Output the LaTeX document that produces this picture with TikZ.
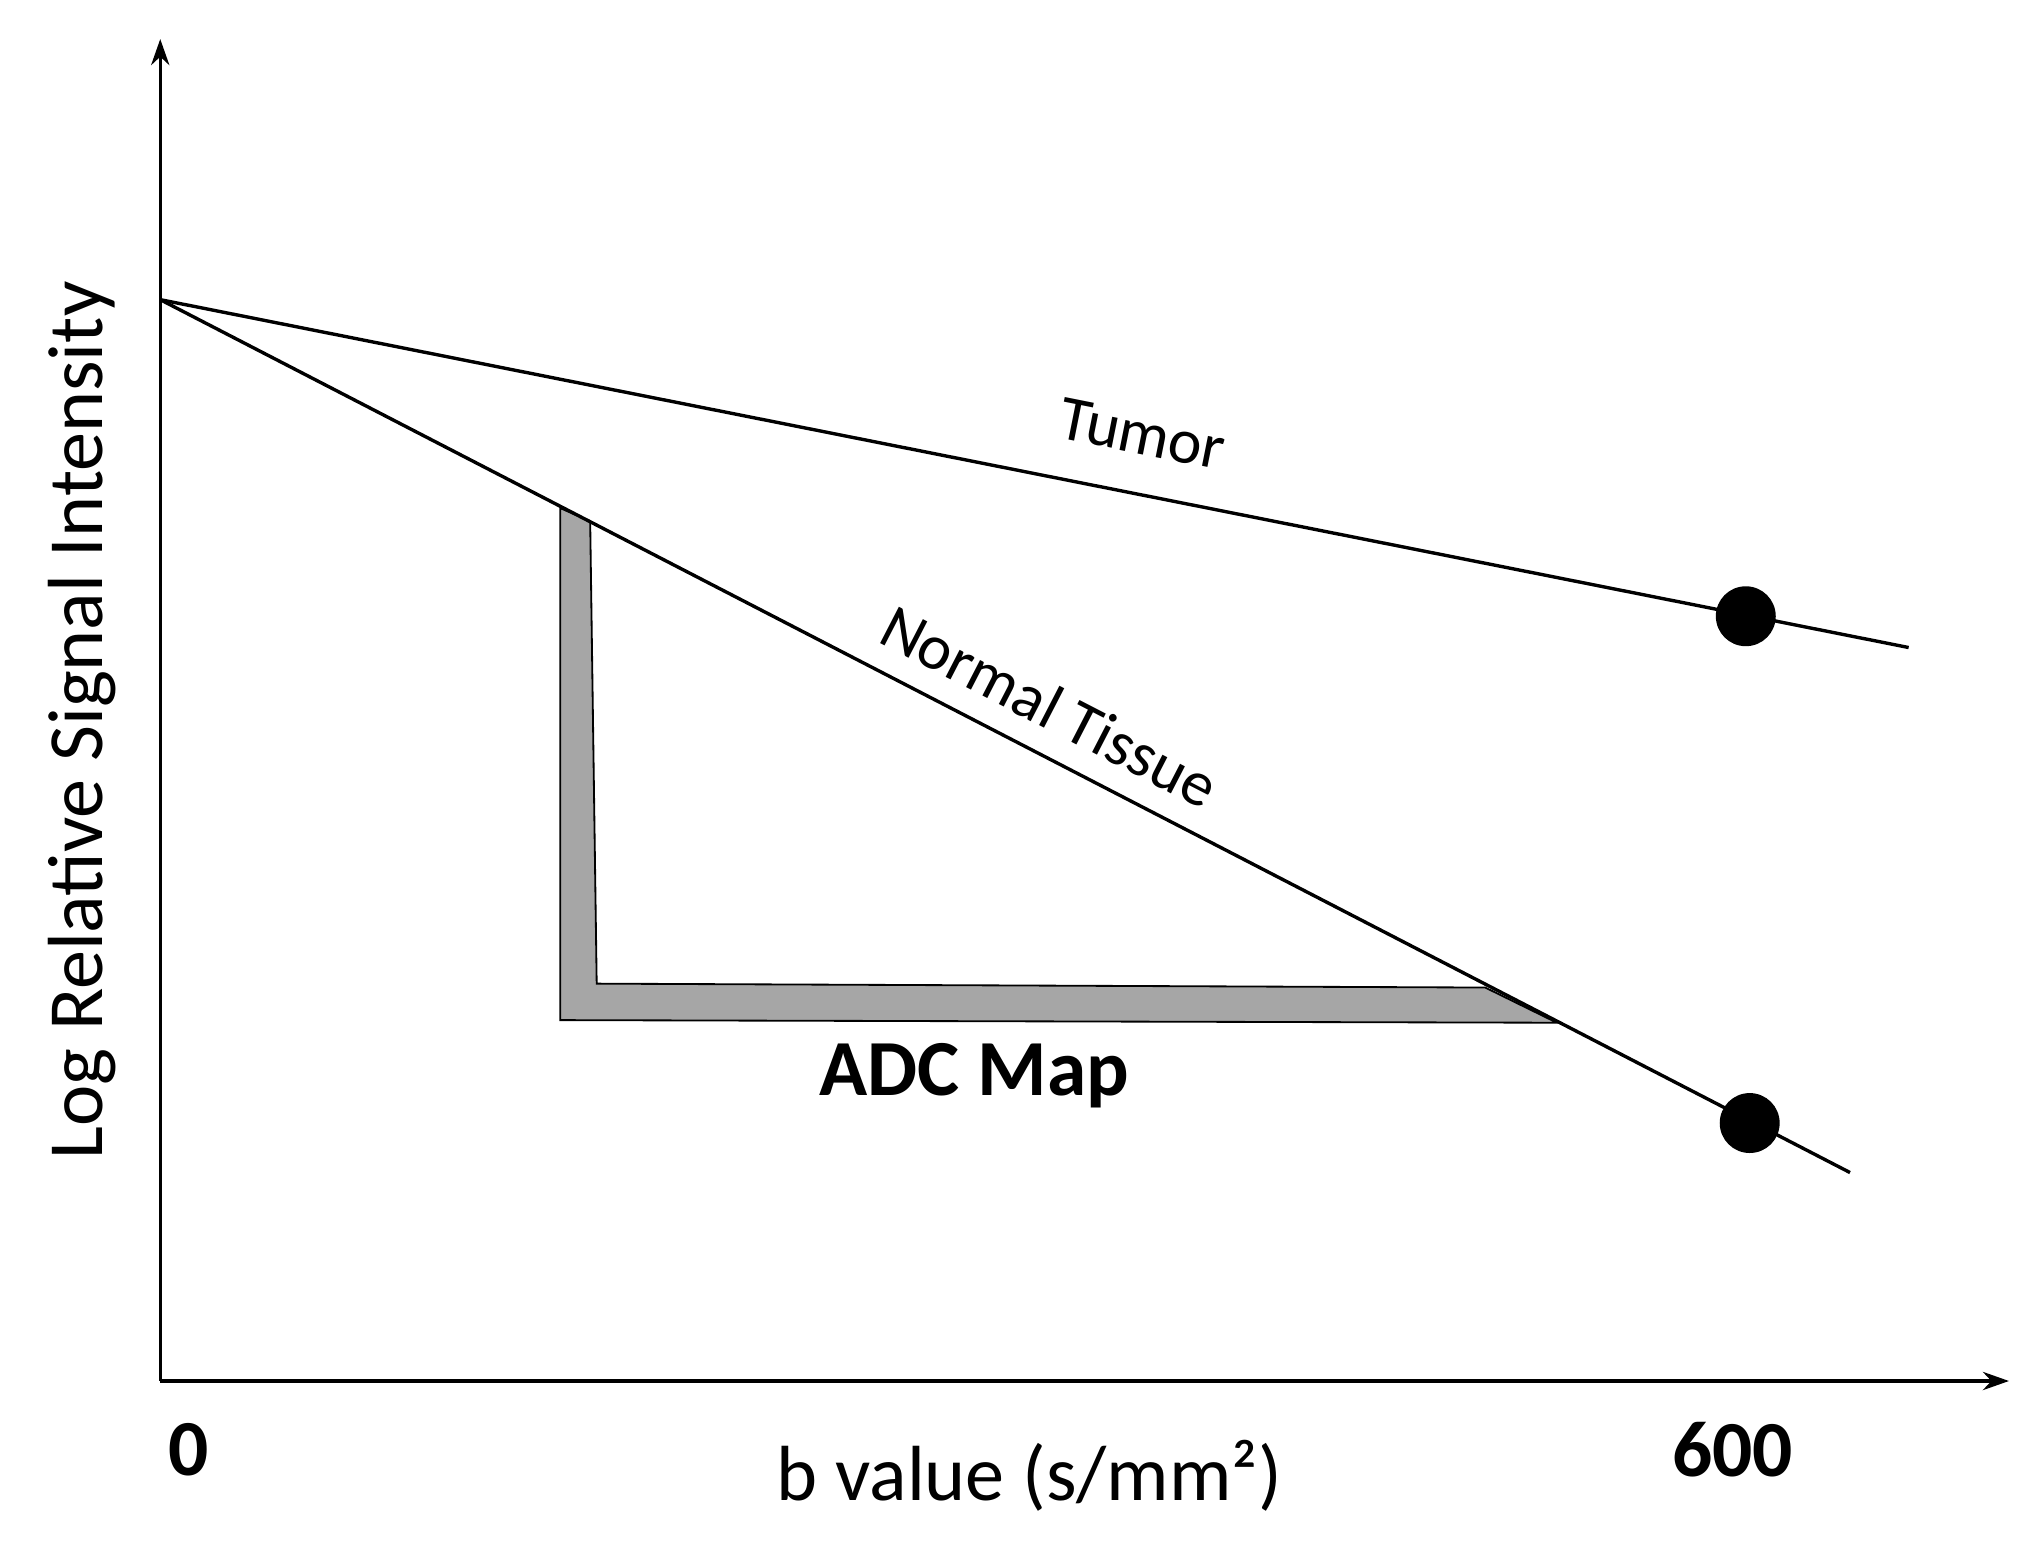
\documentclass[tikz,border=0pt]{standalone}
\usepackage{fontspec}
\setmainfont{Carlito}
\usetikzlibrary{arrows.meta}
\begin{document}
\begin{tikzpicture}[x=1pt,y=-1pt,
  ln/.style={line width=2.6pt},
  dot/.style={circle,fill=black,minimum size=46pt,inner sep=0pt},
  lbl/.style={font=\fontsize{49}{52}\selectfont},
  big/.style={font=\fontsize{60}{64}\selectfont},
  bigb/.style={font=\fontsize{61}{64}\selectfont\bfseries}]
\useasboundingbox (0,0) rectangle (1562,1183);
\coordinate (o) at (123,1060);
\coordinate (ytop) at (123,30);
\coordinate (xend) at (1542,1060);
\draw[ln,-{Stealth[length=20pt,width=14pt]}] (o) -- (ytop);
\draw[ln,-{Stealth[length=20pt,width=14pt]}] (o) -- (xend);
\coordinate (s) at (123,230);
\coordinate (te) at (1465,497);
\coordinate (ne) at (1420,900);
% ADC triangle
\draw[line width=1.4pt,fill=gray!70] (430,390) -- (430,783) -- (1195,785) -- (1140,758) -- (458,755) -- (453,400) -- cycle;
\draw[ln] (s) -- (te);
\draw[ln] (s) -- (ne);
\node[dot] (d1) at (1340,473) {};
\node[dot] (d2) at (1343,862) {};
\node[lbl,rotate=-11.3] (tum) at (877,333) {Tumor};
\node[lbl,rotate=-27.3] (nt) at (806,542) {Normal Tissue};
\node[bigb] (adc) at (748,826) {ADC Map};
\node[bigb] (z) at (145,1113) {0};
\node[bigb] (six) at (1330,1113) {600};
\node[big] (xl) at (790,1133) {b value (s/mm²)};
\node[big,rotate=90] (yl) at (63,553) {Log Relative Signal Intensity};
\end{tikzpicture}
\end{document}
